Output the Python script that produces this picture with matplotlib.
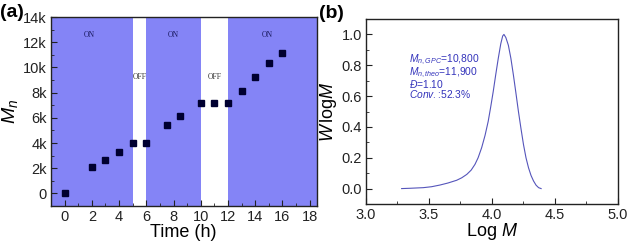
import matplotlib
matplotlib.use("Agg")
import matplotlib.pyplot as plt
from matplotlib.ticker import MultipleLocator

plt.rcParams['font.family'] = ['Liberation Sans', 'DejaVu Sans']
plt.rcParams['mathtext.fontset'] = 'custom'
plt.rcParams['mathtext.rm'] = 'Liberation Sans'
plt.rcParams['mathtext.it'] = 'Liberation Sans:italic'

# panel (a): Mn vs time, light on/off
time_h = [0, 2, 3, 4, 5, 6, 7.5, 8.5, 10, 11, 12, 13, 14, 15, 16]
mn = [0, 2120, 2670, 3280, 3990, 3990, 5430, 6110, 7210, 7210, 7210,
      8150, 9230, 10360, 11140]
on_spans = [(-1, 5), (6, 10), (12, 18.5)]
off_spans = [(5, 6), (10, 12)]
on_label_x = [1.8, 8.0, 14.9]
off_label_x = [5.5, 11.0]
a_yticks = [0, 2000, 4000, 6000, 8000, 10000, 12000, 14000]
a_yticklabels = ['0', '2k', '4k', '6k', '8k', '10k', '12k', '14k']

# panel (b): GPC trace
log_m = [3.283, 3.35, 3.455, 3.52, 3.587, 3.65, 3.72, 3.76, 3.80, 3.835,
         3.865, 3.89, 3.918, 3.945, 3.97, 3.99, 4.01, 4.03, 4.05, 4.07,
         4.085, 4.095, 4.11, 4.13, 4.15, 4.17, 4.19, 4.21, 4.23, 4.25,
         4.27, 4.29, 4.31, 4.33, 4.35, 4.37, 4.39]
w_log_m = [0.0, 0.002, 0.006, 0.012, 0.023, 0.036, 0.054, 0.07, 0.092, 0.12,
           0.157, 0.20, 0.265, 0.345, 0.436, 0.53, 0.63, 0.74, 0.845, 0.94,
           0.99, 1.0, 0.98, 0.93, 0.845, 0.737, 0.62, 0.50, 0.39, 0.286,
           0.20, 0.135, 0.085, 0.049, 0.022, 0.006, 0.0]
info_lines = [r'$M_{n,GPC}$=10,800', r'$M_{n,theo}$=11,900',
              r'$\it{Đ}$=1.10', r'$\it{Conv.}$:52.3%']

fig = plt.figure(figsize=(6.27, 2.43), dpi=100)
ax1 = fig.add_axes([0.0813, 0.152, 0.4235, 0.778])
ax2 = fig.add_axes([0.5837, 0.1605, 0.4019, 0.7613])

shade = '#8484F6'
for x0, x1 in on_spans:
    ax1.axvspan(x0, x1, color=shade, lw=0, zorder=0)
for x in on_label_x:
    ax1.text(x, 12600, 'ON', family='Liberation Serif', fontsize=5.5,
             color='#1a1a60', ha='center', va='center')
for x in off_label_x:
    ax1.text(x, 9250, 'OFF', family='Liberation Serif', fontsize=5.5,
             color='#333333', ha='center', va='center')
ax1.plot(time_h, mn, 's', color='#000030', ms=4, zorder=5)
ax1.set_xlim(-1, 18.5)
ax1.set_ylim(-1000, 14000)
ax1.set_xticks(range(0, 19, 2))
ax1.set_yticks(a_yticks)
ax1.set_yticklabels(a_yticklabels)
ax1.xaxis.set_minor_locator(MultipleLocator(1))
ax1.yaxis.set_minor_locator(MultipleLocator(1000))
ax1.set_xlabel('Time (h)', fontsize=13, labelpad=0)
ax1.set_ylabel(r'$M_n$', fontsize=14, labelpad=2)

ax2.plot(log_m, w_log_m, color='#5555bb', lw=0.8)
ax2.set_xlim(3.0, 5.0)
ax2.set_ylim(-0.1, 1.1)
ax2.set_xticks([3.0, 3.5, 4.0, 4.5, 5.0])
ax2.set_yticks([0.0, 0.2, 0.4, 0.6, 0.8, 1.0])
ax2.xaxis.set_minor_locator(MultipleLocator(0.25))
ax2.yaxis.set_minor_locator(MultipleLocator(0.1))
ax2.set_xlabel(r'Log $\it{M}$', fontsize=13, labelpad=-1)
ax2.set_ylabel(r'$W\,\mathrm{log}M$', fontsize=13, labelpad=2)
ax2.text(3.34, 0.725, '\n'.join(info_lines), fontsize=7.4, color='#3333bb',
         ha='left', va='center', linespacing=0.82)

for ax in (ax1, ax2):
    ax.tick_params(which='both', direction='in', labelsize=10.5,
                   top=False, right=False, colors='#222222')
    ax.tick_params(which='major', length=4, width=0.8, pad=3)
    ax.tick_params(which='minor', length=2, width=0.6)
    for s in ax.spines.values():
        s.set_linewidth(1.0)
        s.set_color('#222222')

fig.text(0.0, 0.95, '(a)', fontsize=14, fontweight='bold', ha='left', va='center')
fig.text(0.508, 0.945, '(b)', fontsize=14, fontweight='bold', ha='left', va='center')

plt.savefig('out.png', dpi=100)
